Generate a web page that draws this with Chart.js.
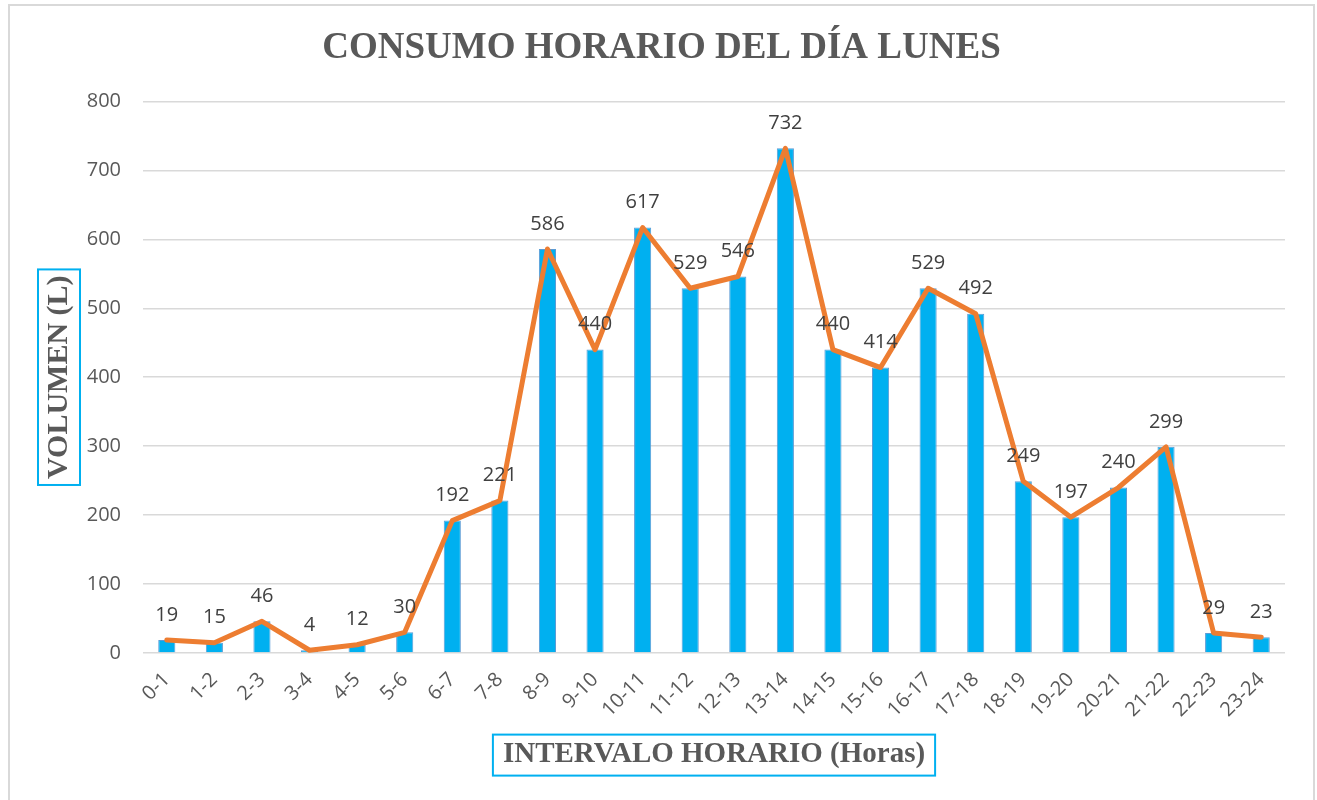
<!DOCTYPE html>
<html lang="es">
<head>
    <meta charset="UTF-8">
    <title>Consumo horario del día lunes</title>
    <script src="https://cdn.jsdelivr.net/npm/chart.js"></script>
    <style>
        html, body { margin: 0; padding: 0; background: #ffffff; }
        #wrap { position: relative; width: 1317px; height: 800px; }
    </style>
</head>
<body>
    <div id="wrap">
        <canvas id="graficoConsumo" width="1317" height="800"></canvas>
    </div>

    <script>
        // Datos
        const intervalos = ['0-1', '1-2', '2-3', '3-4', '4-5', '5-6', '6-7', '7-8', '8-9', '9-10', '10-11', '11-12',
            '12-13', '13-14', '14-15', '15-16', '16-17', '17-18', '18-19', '19-20', '20-21', '21-22', '22-23', '23-24'];
        const volumen = [19, 15, 46, 4, 12, 30, 192, 221, 586, 440, 617, 529, 546, 732, 440, 414, 529, 492, 249, 197, 240, 299, 29, 23];
        const ticksY = [0, 100, 200, 300, 400, 500, 600, 700, 800];

        const AZUL = '#00B0F0';
        const NARANJA = '#ED7D31';
        const GRIS = '#595959';

        // Marco exterior y recuadros de los títulos de los ejes
        const marcos = {
            id: 'marcos',
            beforeDraw(chart) {
                const ctx = chart.ctx;
                ctx.save();
                ctx.strokeStyle = '#d9d9d9';
                ctx.lineWidth = 2;
                ctx.strokeRect(9, 5, 1305, 800);
                ctx.restore();
            },
            afterDraw(chart) {
                const ctx = chart.ctx;
                ctx.save();
                ctx.strokeStyle = AZUL;
                ctx.lineWidth = 2;

                // eje X
                const sx = chart.scales.x;
                const tx = sx.options.title;
                const fx = Chart.helpers.toFont(tx.font);
                ctx.font = fx.string;
                const wx = ctx.measureText(tx.text).width;
                const cx = (sx.left + sx.right) / 2;
                const cy = sx.bottom - fx.lineHeight / 2 - tx.padding.bottom;
                ctx.strokeRect(cx - wx / 2 - 10, cy - 20, wx + 20, 41);

                // eje Y
                const sy = chart.scales.y;
                const ty = sy.options.title;
                const fy = Chart.helpers.toFont(ty.font);
                ctx.font = fy.string;
                const wy = ctx.measureText(ty.text).width;
                const yx = sy.left + fy.lineHeight / 2 + ty.padding.top;
                const yy = (sy.top + sy.bottom) / 2;
                ctx.strokeRect(yx - 21, yy - wy / 2 - 6, 42, wy + 12);
                ctx.restore();
            }
        };

        // Etiquetas de valor encima de cada barra
        const etiquetas = {
            id: 'etiquetas',
            afterDatasetsDraw(chart) {
                const ctx = chart.ctx;
                const meta = chart.getDatasetMeta(0);
                ctx.save();
                ctx.font = '20px "Open Sans"';
                ctx.fillStyle = '#404040';
                ctx.textAlign = 'center';
                ctx.textBaseline = 'middle';
                meta.data.forEach((barra, i) => {
                    ctx.fillText(String(volumen[i]), barra.x, barra.y - 25);
                });
                ctx.restore();
            }
        };

        const ctx = document.getElementById('graficoConsumo').getContext('2d');

        new Chart(ctx, {
            type: 'bar',
            data: {
                labels: intervalos,
                datasets: [{
                    type: 'bar',
                    label: 'Volumen',
                    data: volumen,
                    backgroundColor: AZUL,
                    borderColor: '#5B9BD5',
                    borderWidth: 1,
                    barPercentage: 0.36,
                    categoryPercentage: 1,
                    order: 1
                }, {
                    type: 'line',
                    label: 'Tendencia',
                    data: volumen,
                    borderColor: NARANJA,
                    borderWidth: 5,
                    pointRadius: 0,
                    tension: 0,
                    borderCapStyle: 'round',
                    borderJoinStyle: 'round',
                    order: 0
                }]
            },
            options: {
                responsive: false,
                animation: false,
                layout: {
                    padding: { left: 38, right: 32, top: 0, bottom: 0 }
                },
                plugins: {
                    legend: { display: false },
                    tooltip: { enabled: false },
                    title: {
                        display: true,
                        text: 'CONSUMO HORARIO DEL DÍA LUNES',
                        color: GRIS,
                        font: { family: '"Liberation Serif", "DejaVu Serif", serif', size: 37, weight: 'bold', lineHeight: 1.2 },
                        padding: { top: 26, bottom: 31 }
                    }
                },
                scales: {
                    x: {
                        offset: true,
                        grid: { display: false },
                        border: { display: false },
                        ticks: {
                            color: GRIS,
                            font: { family: '"Open Sans", sans-serif', size: 20 },
                            minRotation: 45,
                            maxRotation: 45,
                            autoSkip: false,
                            padding: 7
                        },
                        title: {
                            display: true,
                            text: 'INTERVALO HORARIO (Horas)',
                            color: GRIS,
                            font: { family: '"Liberation Serif", "DejaVu Serif", serif', size: 29, weight: 'bold', lineHeight: 1.2 },
                            padding: { top: 0, bottom: 28 }
                        },
                        afterFit(scale) { scale.height = 147; }
                    },
                    y: {
                        min: 0,
                        max: 800,
                        afterBuildTicks(scale) { scale.ticks = ticksY.map(v => ({ value: v })); },
                        grid: { color: '#d9d9d9', lineWidth: 1.5, drawTicks: false },
                        border: { display: false },
                        ticks: {
                            color: GRIS,
                            font: { family: '"Open Sans", sans-serif', size: 20 },
                            padding: 22
                        },
                        title: {
                            display: true,
                            text: 'VOLUMEN (L)',
                            color: GRIS,
                            font: { family: '"Liberation Serif", "DejaVu Serif", serif', size: 30, weight: 'bold', lineHeight: 1.2 },
                            padding: { top: 3, bottom: 0 }
                        },
                        afterFit(scale) { scale.width = 105; }
                    }
                }
            },
            plugins: [marcos, etiquetas]
        });
    </script>
</body>
</html>
